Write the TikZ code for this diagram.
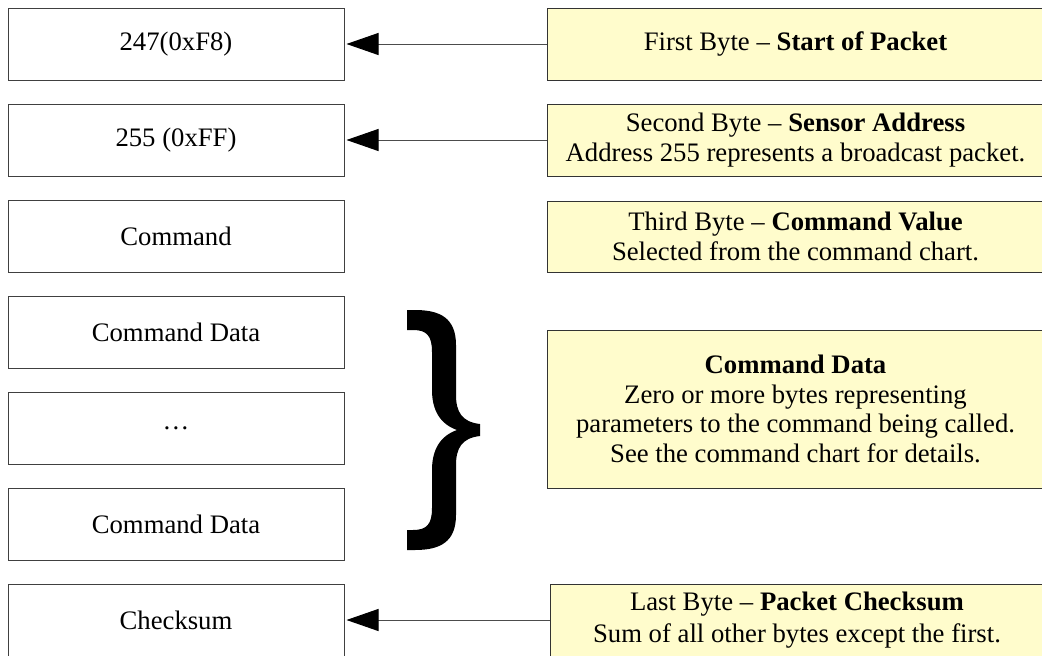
\documentclass[tikz,border=0pt]{standalone}
\usepackage{fontspec}
\setmainfont{Liberation Serif}
\usetikzlibrary{arrows.meta}
\tikzset{
  txt/.style={font=\fontsize{26.7}{29.5}\selectfont, align=center, inner sep=0pt},
  bytebox/.style={txt, draw=black!75, line width=1pt, fill=white,
    minimum width=336pt, minimum height=72pt},
  notebox/.style={txt, draw=black!80, line width=1pt, fill=yellow!20,
    minimum width=497pt, minimum height=72pt},
  pointer/.style={draw=black!70, line width=1pt,
    -{Triangle[length=32pt,width=22pt,black]}, shorten >=2pt},
}
\begin{document}
\begin{tikzpicture}[x=1pt,y=-1pt]
\useasboundingbox (0,0) rectangle (1042,656);
\clip (0,0) rectangle (1042,656);

% packet bytes, top to bottom
\node[bytebox] (b1) at (176,44)  {247(0xF8)};
\node[bytebox] (b2) at (176,140) {255 (0xFF)};
\node[bytebox] (b3) at (176,236) {Command};
\node[bytebox] (b4) at (176,332) {Command Data};
\node[bytebox] (b5) at (176,428) {…};
\node[bytebox] (b6) at (176,524) {Command Data};
\node[bytebox] (b7) at (176,620) {Checksum};

% descriptions
\node[notebox] (d1) at (795.5,44)  {First Byte \textendash{} \textbf{Start of Packet}};
\node[notebox] (d2) at (795.5,140) {Second Byte \textendash{} \textbf{Sensor Address}\\Address 255 represents a broadcast packet.};
\node[notebox, minimum height=71pt] (d3) at (795.5,236.5) {Third Byte \textendash{} \textbf{Command Value}\\Selected from the command chart.};
\node[notebox, minimum height=158pt] (d4) at (795.5,409) {\textbf{Command Data}\\Zero or more bytes representing\\parameters to the command being called.\\See the command chart for details.};
\node[notebox, minimum width=494pt, font=\fontsize{26.7}{32}\selectfont] (d5) at (797,620) {Last Byte \textendash{} \textbf{Packet Checksum}\\Sum of all other bytes except the first.};

% pointers
\draw[pointer] (d1.west) -- (b1.east);
\draw[pointer] (d2.west) -- (b2.east);
\draw[pointer] (d5.west) -- (b7.east);

% large closing brace grouping the data bytes
\fill[black]
  (407,310) -- (415,310)
  .. controls (440,310) and (456,318) .. (456,345)
  -- (456,395)
  .. controls (456,412) and (462,422) .. (480,424)
  -- (480,436)
  .. controls (462,438) and (456,448) .. (456,465)
  -- (456,515)
  .. controls (456,542) and (440,550) .. (415,550)
  -- (407,550) -- (407,530) -- (413,530)
  .. controls (427,530) and (432,524) .. (432,508)
  -- (432,470)
  .. controls (432,450) and (440,436) .. (457,430)
  .. controls (440,424) and (432,410) .. (432,390)
  -- (432,352)
  .. controls (432,336) and (427,330) .. (413,330)
  -- (407,330) -- cycle;
\end{tikzpicture}
\end{document}
